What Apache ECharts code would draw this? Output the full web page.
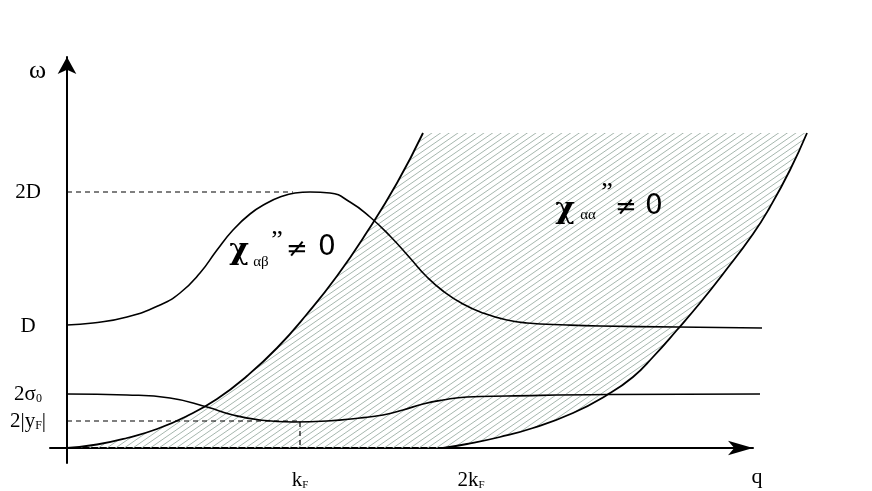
<!DOCTYPE html>
<html><head><meta charset="utf-8">
<script src="https://cdn.jsdelivr.net/npm/echarts@6/dist/echarts.min.js"></script>
<style>html,body{margin:0;padding:0;background:#fff}#c{width:872px;height:491px}</style>
</head><body><div id="c"></div>
<script>
// ---- data (q, ω) in arbitrary schematic units ----
const chiABCurve = [[0,123],[26,125],[60,131],[93,143],[113,155],[133,175],[150,198],[166,218],[183,234],[200,245],[213,251],[228,255],[243,256],[263,255],[283,246],[303,231],[323,212],[343,190],[360,171],[376,157],[396,144],[416,135],[440,128],[460,125],[500,123],[533,122],[610,121],[695,120]];
const sigmaCurve = [[0,54],[60,53],[103,50],[140,41],[166,33],[193,28],[226,26],[260,27],[293,30],[316,33],[336,38],[356,44],[376,48],[400,51],[440,52],[540,53.5],[693,54]];
const leftEdge = [[0,0],[30,3.5],[60,10],[90,19],[120,32],[150,49],[180,72],[210,100],[240,134],[270,172],[300,216],[330,265],[356,315]];
const rightEdge = [[740,315],[723,278],[703,241],[686,214],[656,174],[633,145],[610,118],[586,91],[566,71],[540,53],[506,35],[466,20],[433,11],[400,4],[376,0]];
const dashed2D = [[0,256],[226,256]];
const dashedYF = [[0,27],[233,27],[233,0]];
const qTickValues = [233, 404];
const qTickLabels = ['k{s|F}', '2k{s|F}'];
const wTickValues = [256, 122, 54, 27];
const wTickLabels = ['2D', 'D', '2σ{s|0}', '2|y{s|F}|'];
const axisNames = { x: 'q', y: 'ω' };

function makeHatch() {
  const W = 26, H = 18, n = 3;
  const c = document.createElement('canvas');
  c.width = W; c.height = H;
  const ctx = c.getContext('2d');
  ctx.strokeStyle = '#a6b7ae';
  ctx.lineWidth = 1;
  for (let k = -3 * n; k <= 3 * n; k++) {
    const off = k * H / n;
    ctx.beginPath();
    ctx.moveTo(-W, 2 * H + off);
    ctx.lineTo(2 * W, -H + off);
    ctx.stroke();
  }
  return c;
}
const hatch = makeHatch();

const serif = 'Liberation Serif';
const sans = 'DejaVu Sans';
const lbl = (v, vals, labs) => { const i = vals.findIndex(x => Math.abs(x - v) < 0.5); return i < 0 ? '' : labs[i]; };

const chart = echarts.init(document.getElementById('c'), null, { renderer: 'canvas' });
const txt = (x, y, s, font, size, weight) => ({
  type: 'text', x: x, y: y, z: 50,
  style: { text: s, fontFamily: font, fontSize: size, fontWeight: weight || 'normal', fill: '#000', align: 'center', verticalAlign: 'middle' }
});
const curveStyle = w => ({ color: '#000', width: w });
const onData = { xAxisIndex: 0, yAxisIndex: 0, symbol: 'none', clip: false };

chart.setOption({
  animation: false,
  backgroundColor: '#fff',
  grid: [
    { left: 50, right: 45, top: 57, bottom: 28, outerBoundsMode: 'none', containLabel: false },
    { left: 50, right: 119, top: 57, bottom: 28, outerBoundsMode: 'none', containLabel: false }
  ],
  xAxis: [
    { type: 'value', gridIndex: 0, min: -17, max: 760, show: false },
    {
      type: 'value', gridIndex: 1, min: -17, max: 686,
      splitLine: { show: false },
      axisTick: { show: false },
      axisLine: { onZero: true, symbol: ['none', 'arrow'], symbolSize: [11, 25], lineStyle: { color: '#000', width: 2 } },
      axisLabel: {
        customValues: qTickValues, margin: 7,
        formatter: v => lbl(v, qTickValues, qTickLabels),
        fontFamily: serif, fontSize: 21, color: '#000',
        rich: { s: { fontFamily: serif, fontSize: 11, verticalAlign: 'bottom', color: '#000' } }
      },
      name: axisNames.x, nameLocation: 'end', nameGap: 4,
      nameTextStyle: { fontFamily: serif, fontSize: 22, color: '#000', align: 'center', verticalAlign: 'top', padding: [18, 0, 0, 0] }
    }
  ],
  yAxis: [
    { type: 'value', gridIndex: 0, min: -15, max: 391, show: false },
    {
      type: 'value', gridIndex: 1, min: -15, max: 391,
      splitLine: { show: false },
      axisTick: { show: false },
      axisLine: { onZero: true, symbol: ['none', 'arrow'], symbolSize: [14, 17], lineStyle: { color: '#000', width: 2 } },
      axisLabel: {
        customValues: wTickValues, margin: 22, align: 'center',
        formatter: v => lbl(v, wTickValues, wTickLabels),
        fontFamily: serif, fontSize: 21, color: '#000',
        rich: { s: { fontFamily: serif, fontSize: 12, verticalAlign: 'bottom', color: '#000' } }
      },
      name: axisNames.y, nameLocation: 'end', nameGap: -14,
      nameTextStyle: { fontFamily: serif, fontSize: 26, color: '#000', align: 'right', verticalAlign: 'middle', padding: [0, 21, 0, 0] }
    }
  ],
  series: [
    Object.assign({
      type: 'custom', z: 1,
      data: [0],
      renderItem: function (params, api) {
        const pts = leftEdge.concat(rightEdge).map(p => api.coord(p));
        return { type: 'polygon', shape: { points: pts }, style: { fill: { image: hatch, repeat: 'repeat' }, stroke: null } };
      }
    }, onData),
    Object.assign({ type: 'line', data: leftEdge, smooth: true, z: 5, lineStyle: curveStyle(1.8) }, onData),
    Object.assign({ type: 'line', data: rightEdge.slice().reverse(), smooth: true, z: 5, lineStyle: curveStyle(1.8) }, onData),
    Object.assign({ type: 'line', data: chiABCurve, smooth: true, z: 5, lineStyle: curveStyle(1.6) }, onData),
    Object.assign({ type: 'line', data: sigmaCurve, smooth: true, z: 5, lineStyle: curveStyle(1.6) }, onData),
    Object.assign({ type: 'line', data: dashed2D, z: 4, lineStyle: { color: '#000', width: 1.2, type: [5, 4] } }, onData),
    Object.assign({ type: 'line', data: dashedYF, z: 4, lineStyle: { color: '#000', width: 1.2, type: [5, 4] } }, onData)
  ],
  graphic: [
    txt(239, 251, 'χ', 'DejaVu Serif', 30, 'bold'),
    txt(261, 262, 'αβ', serif, 15),
    txt(277, 241, '”', serif, 26),
    txt(297, 250, '≠', sans, 26),
    txt(327, 248, '0', sans, 28),
    txt(565, 210, 'χ', 'DejaVu Serif', 30, 'bold'),
    txt(588, 215, 'αα', serif, 15),
    txt(607, 193, '”', serif, 26),
    txt(626, 208, '≠', sans, 26),
    txt(654, 207, '0', sans, 28)
  ]
});
</script></body></html>
